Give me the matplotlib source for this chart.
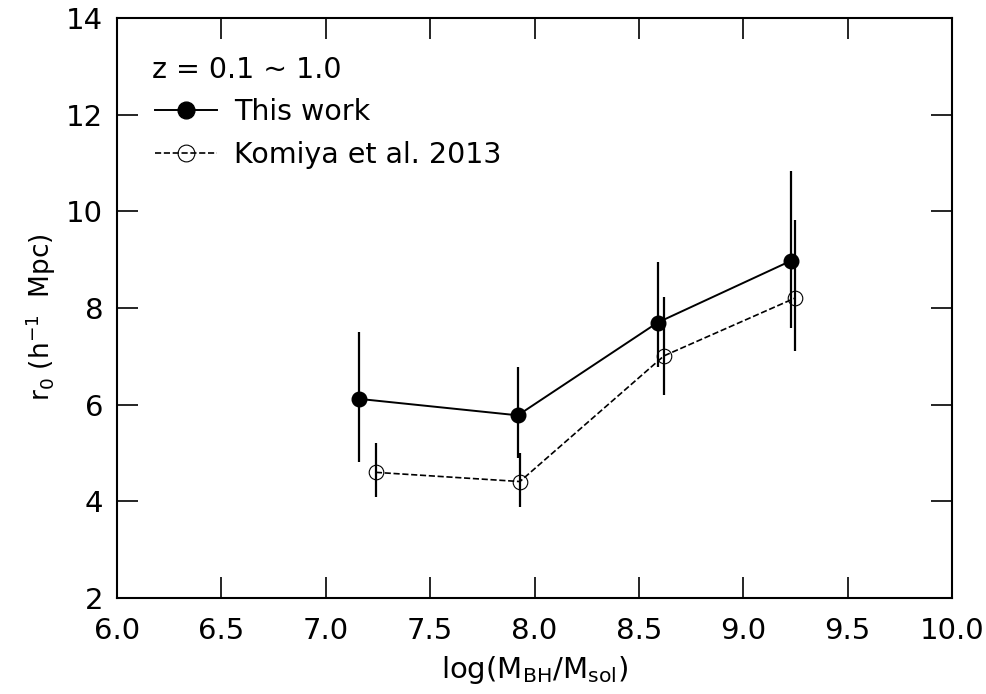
import matplotlib
matplotlib.use("Agg")
import matplotlib.pyplot as plt

# This work
mbh_this = [7.16, 7.92, 8.59, 9.23]
r0_this = [6.12, 5.78, 7.70, 8.98]
r0_this_hi = [7.50, 6.79, 8.96, 10.83]
r0_this_lo = [4.81, 4.90, 6.77, 7.58]

# Komiya et al. 2013
mbh_kom = [7.24, 7.93, 8.62, 9.25]
r0_kom = [4.60, 4.41, 7.01, 8.21]
r0_kom_hi = [5.21, 5.01, 8.22, 9.82]
r0_kom_lo = [4.10, 3.89, 6.20, 7.11]

xticks = [6.0, 6.5, 7.0, 7.5, 8.0, 8.5, 9.0, 9.5, 10.0]
yticks = [2, 4, 6, 8, 10, 12, 14]

fig = plt.figure(figsize=(9.86, 6.94), dpi=100)
ax = fig.add_axes([0.1187, 0.1383, 0.8468, 0.8357])

err_this = [[v - lo for v, lo in zip(r0_this, r0_this_lo)],
            [hi - v for v, hi in zip(r0_this, r0_this_hi)]]
err_kom = [[v - lo for v, lo in zip(r0_kom, r0_kom_lo)],
           [hi - v for v, hi in zip(r0_kom, r0_kom_hi)]]

ax.errorbar(mbh_this, r0_this, yerr=err_this, fmt="none", ecolor="black",
            elinewidth=1.6, capsize=0)
ax.errorbar(mbh_kom, r0_kom, yerr=err_kom, fmt="none", ecolor="black",
            elinewidth=1.6, capsize=0)
ax.plot(mbh_this, r0_this, "-", color="black", lw=1.4, marker="o",
        markersize=10.5, markerfacecolor="black", label="This work")
ax.plot(mbh_kom, r0_kom, "--", color="black", lw=1.2, marker="o",
        markersize=10.5, markerfacecolor="none", markeredgewidth=0.8,
        label="Komiya et al. 2013")

ax.set_xlim(6.0, 10.0)
ax.set_ylim(2, 14)
ax.set_xticks(xticks)
ax.set_yticks(yticks)
ax.set_xticklabels([f"{t:.1f}" for t in xticks], fontsize=21)
ax.set_yticklabels([str(t) for t in yticks], fontsize=21)
ax.tick_params(direction="in", length=15, width=1.2, top=True, right=True)
ax.tick_params(axis="y", pad=10)
ax.tick_params(axis="x", pad=14)
for sp in ax.spines.values():
    sp.set_linewidth(1.5)

ax.set_xlabel(r"log(M$_{\mathregular{BH}}$/M$_{\mathregular{sol}}$)",
              fontsize=21, labelpad=6)
ax.set_ylabel(r"r$_0$ (h$^{-1}$  Mpc)", fontsize=19)
ax.yaxis.set_label_coords(-0.071, 0.485)

ax.text(0.042, 0.910, "z = 0.1 ~ 1.0", transform=ax.transAxes,
        fontsize=20.5, va="center", ha="left")
ax.legend(loc="upper left", bbox_to_anchor=(0.032, 0.881), frameon=False,
          fontsize=20.5, handlelength=2.18, handletextpad=0.6,
          labelspacing=0.52, borderaxespad=0.0, markerscale=1.15)

fig.savefig("out.png", dpi=100)
